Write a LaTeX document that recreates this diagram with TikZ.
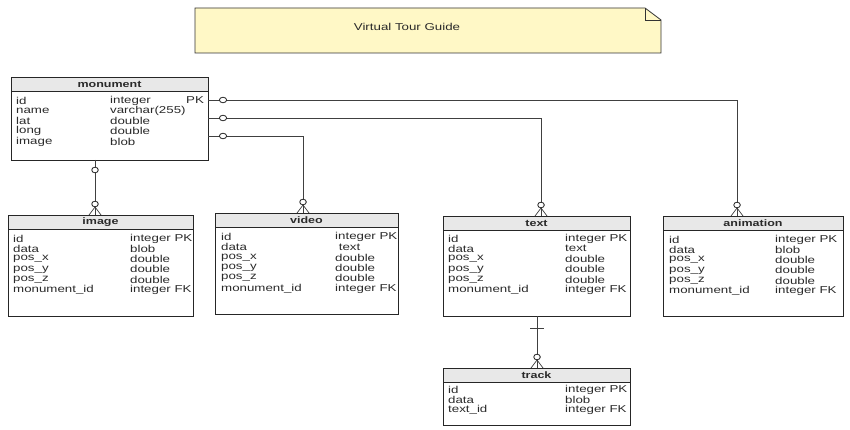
\documentclass[tikz,border=0pt]{standalone}
\usepackage{fontspec}
\setmainfont[FakeStretch=1.33]{Liberation Sans}
\definecolor{notefill}{HTML}{FFF8C6}
\definecolor{hdrfill}{HTML}{E8E8E8}
\definecolor{txt}{HTML}{2A2A2A}
\tikzset{
  ent/.style={draw=black!85, line width=0.8pt, fill=white, anchor=north west, inner sep=0pt, outer sep=0pt},
  hdr/.style={draw=black!85, line width=0.8pt, fill=hdrfill, anchor=north west, inner sep=0pt, outer sep=0pt, minimum height=14pt, text=txt, font=\bfseries\fontsize{9.4}{10}\selectfont},
  fld/.style={anchor=west, inner sep=0pt, text=txt, font=\fontsize{10}{11}\selectfont},
  conn/.style={draw=black!75, line width=0.7pt},
  zc/.style={draw=black!85, fill=white, line width=0.8pt}
}
\newcommand\entbox[6]{%
  \node[ent, minimum width=#4pt, minimum height=#5pt] (#1) at (#2,#3) {};
  \node[hdr, minimum width=#4pt] (#1h) at (#2,#3) {#6};
}
\newcommand\fieldrows[5]{%
  \foreach \a/\b [count=\i from 0] in {#4} {
    \node[fld] (#5a\i) at ({#1},{#3+10.3*\i}) {\a};
    \node[fld] (#5b\i) at ({#2},{#3+10.3*\i}) {\b};
  }
}
\newcommand\crowfoot[1]{%
  \draw[conn] ([xshift=-6pt]#1) -- ([yshift=8pt]#1) -- ([xshift=6pt]#1);
  \draw[conn] (#1) -- ([yshift=8pt]#1);
  \draw[zc] ([yshift=11pt]#1) ellipse [x radius=3.3pt, y radius=2.8pt];
}
\begin{document}
\begin{tikzpicture}[x=1pt,y=-1pt]
\useasboundingbox (0,0) rectangle (850,430);

% note
\draw[fill=notefill, draw=black!80, line width=0.8pt] (195,8) -- (645,8) -- (661,20) -- (661,53) -- (195,53) -- cycle;
\draw[draw=black!80, line width=0.8pt] (645,8) -- (645,20) -- (661,20);
\node[fld, anchor=center] (title) at (407,27) {Virtual Tour Guide};

% entities
\entbox{monument}{11}{77}{197}{83}{monument}
\fieldrows{16}{110}{100.5}{id/integer, name/varchar(255), lat/double, long/double, image/blob}{mon}
\node[fld] (monpk) at (186,100.5) {PK};

\entbox{image}{8}{215}{185}{101}{image}
\fieldrows{13}{130}{238.5}{id/integer PK, data/blob, pos\_x/double, pos\_y/double, pos\_z/double, monument\_id/integer FK}{img}

\entbox{video}{215}{213}{183}{101}{video}
\fieldrows{221}{335}{237}{id/integer PK, data/\ text, pos\_x/double, pos\_y/double, pos\_z/double, monument\_id/integer FK}{vid}

\entbox{text}{443}{216}{187}{100}{text}
\fieldrows{448}{565}{238.5}{id/integer PK, data/text, pos\_x/double, pos\_y/double, pos\_z/double, monument\_id/integer FK}{txt}

\entbox{animation}{663}{216}{180}{100}{animation}
\fieldrows{669}{775}{239.5}{id/integer PK, data/blob, pos\_x/double, pos\_y/double, pos\_z/double, monument\_id/integer FK}{ani}

\entbox{track}{443}{368}{187}{57}{track}
\fieldrows{448}{565}{389.5}{id/integer PK, data/blob, text\_id/integer FK}{trk}

% connectors
\coordinate (c1s) at ([yshift=-23pt]monument.north east);
\coordinate (c1e) at ([xshift=74pt]animation.north west);
\coordinate (c2s) at ([yshift=-41pt]monument.north east);
\coordinate (c2e) at ([xshift=98pt]text.north west);
\coordinate (c3s) at ([yshift=-59pt]monument.north east);
\coordinate (c3e) at ([xshift=88pt]video.north west);
\coordinate (c4s) at ([xshift=84pt]monument.south west);
\coordinate (c4e) at (c4s |- image.north);
\coordinate (c5s) at ([xshift=94pt]text.south west);
\coordinate (c5e) at (c5s |- track.north);

\draw[conn] (c1s) -| (c1e);
\draw[conn] (c2s) -| (c2e);
\draw[conn] (c3s) -| (c3e);
\draw[conn] (c4s) -- (c4e);
\draw[conn] (c5s) -- (c5e);

% zero-or-one ends at monument
\foreach \c in {c1s,c2s,c3s}
  \draw[zc] ([xshift=15pt]\c) ellipse [x radius=3.6pt, y radius=2.8pt];
\draw[zc] ([yshift=-10pt]c4s) ellipse [x radius=3.3pt, y radius=2.8pt];

% one bar on text side
\draw[conn] ([xshift=-7pt,yshift=-12pt]c5s) -- ([xshift=7pt,yshift=-12pt]c5s);

% crow's feet
\crowfoot{c1e}
\crowfoot{c2e}
\crowfoot{c3e}
\crowfoot{c4e}
\crowfoot{c5e}
\end{tikzpicture}
\end{document}
